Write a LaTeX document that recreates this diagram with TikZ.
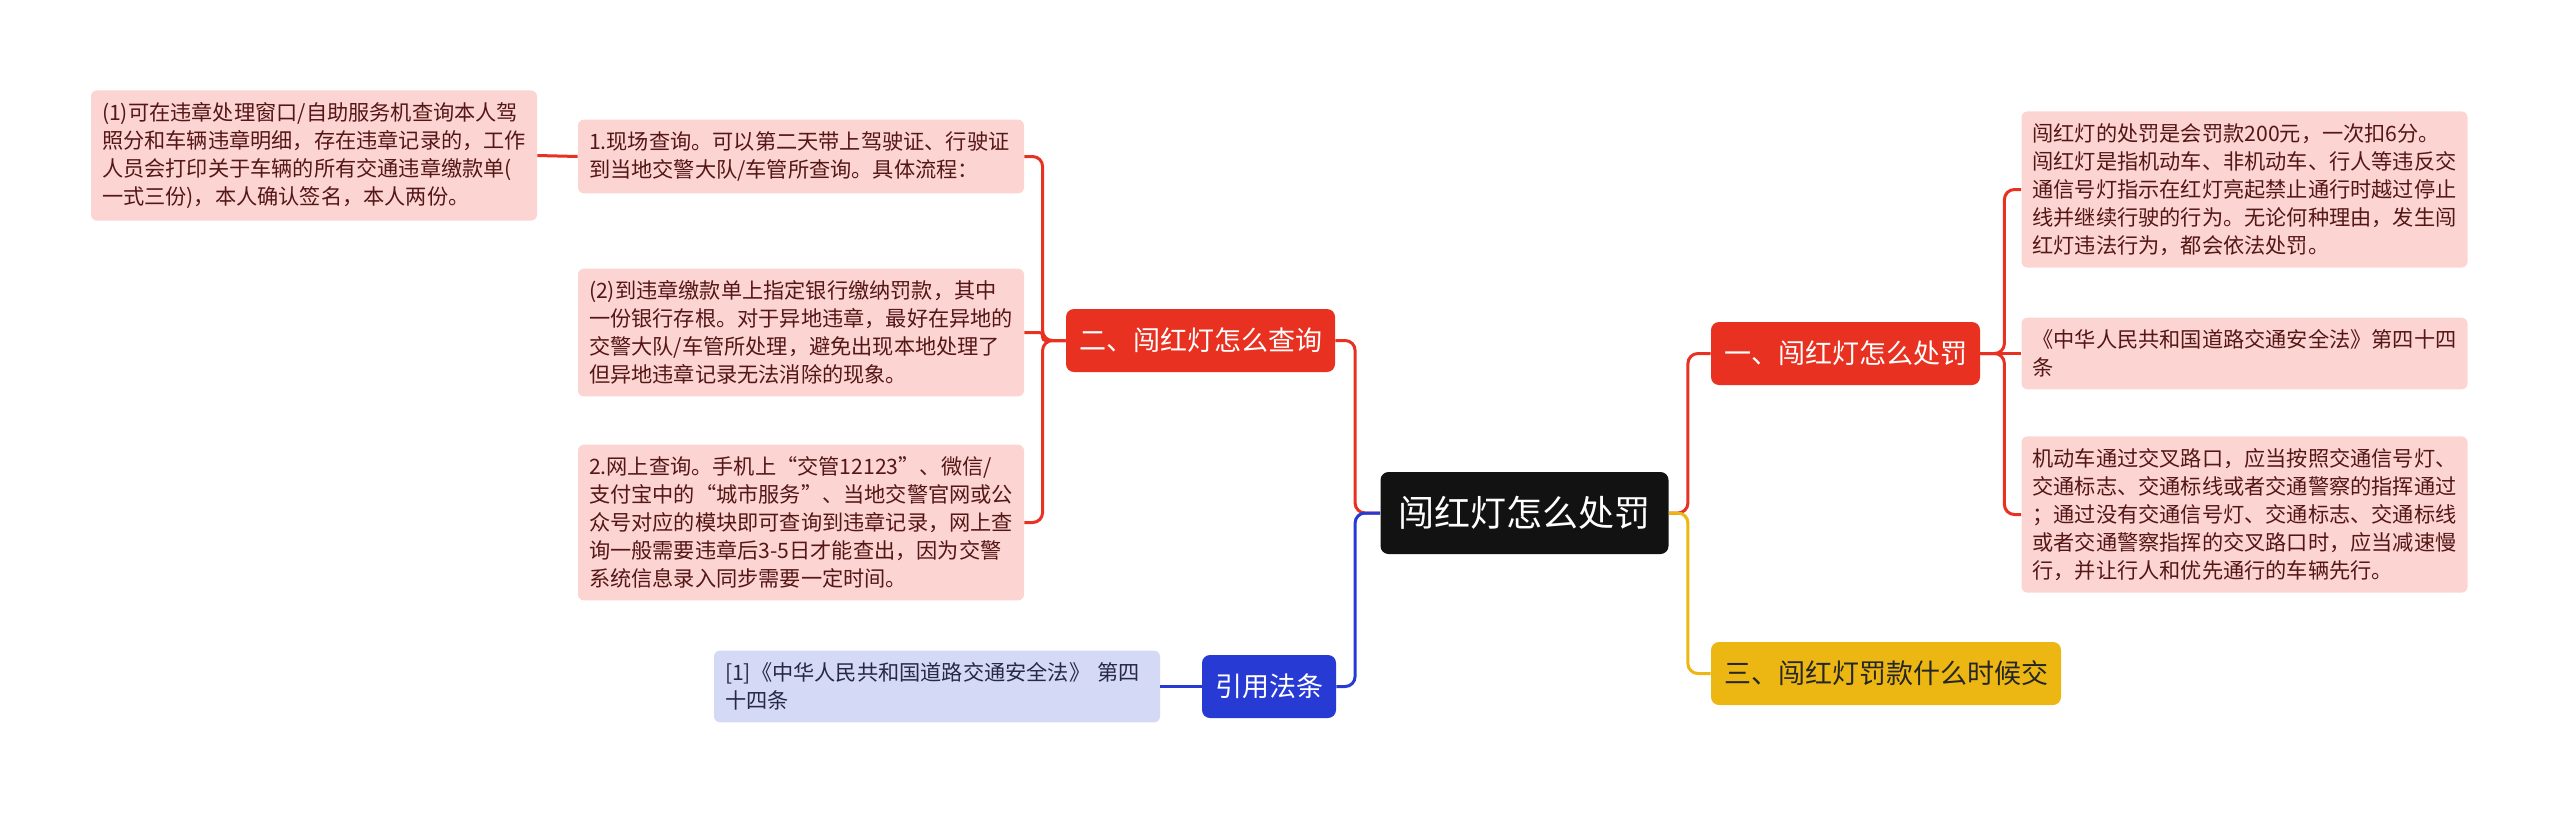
\documentclass[tikz,border=0pt]{standalone}
\usepackage{fontspec}
\setmainfont{Noto Sans CJK SC}

\definecolor{redbranch}{RGB}{232,49,33}
\definecolor{pinkleaf}{RGB}{252,213,211}
\definecolor{leaftext}{RGB}{85,22,22}
\definecolor{bluebranch}{RGB}{40,58,212}
\definecolor{blueleaf}{RGB}{212,217,246}
\definecolor{bluetext}{RGB}{40,40,70}
\definecolor{yellowbranch}{RGB}{236,183,18}

\tikzset{
  rootbox/.style={fill=black!93, text=white, rounded corners=4pt,
    font=\fontsize{18pt}{22pt}\selectfont, inner xsep=9pt, minimum height=41pt},
  branchbox/.style={rounded corners=4pt, font=\fontsize{13.5pt}{16pt}\selectfont,
    inner xsep=6.5pt, minimum height=31.5pt},
  leafbox/.style={fill=pinkleaf, text=leaftext, rounded corners=3pt,
    font=\fontsize{10.6pt}{14pt}\selectfont, text width=212pt, align=left,
    inner xsep=5.5pt, inner ysep=6pt},
  link/.style={line width=1.5pt, rounded corners=5pt},
}

\begin{document}
\begin{tikzpicture}[x=0.5pt, y=-0.5pt]
\useasboundingbox (0,0) rectangle (2560,815);

% centre and main branches
\node[rootbox] (root) at (1524.5,513) {闯红灯怎么处罚};
\node[branchbox, fill=redbranch, text=white] (chufa) at (1845.5,353.5) {一、闯红灯怎么处罚};
\node[branchbox, fill=redbranch, text=white] (chaxun) at (1200.5,340.5) {二、闯红灯怎么查询};
\node[branchbox, fill=yellowbranch, text=black!85] (shijian) at (1886,673.5) {三、闯红灯罚款什么时候交};
\node[branchbox, fill=bluebranch, text=white] (yinyong) at (1269,686.5) {引用法条};

% left leaves
\node[leafbox] (liucheng) at (314,155.5) {(1)可在违章处理窗口/自助服务机查询本人驾\\照分和车辆违章明细，存在违章记录的，工作\\人员会打印关于车辆的所有交通违章缴款单(\\一式三份)，本人确认签名，本人两份。};
\node[leafbox] (xianchang) at (801,156.5) {1.现场查询。可以第二天带上驾驶证、行驶证\\到当地交警大队/车管所查询。具体流程：};
\node[leafbox] (jiaokuan) at (801,332.5) {(2)到违章缴款单上指定银行缴纳罚款，其中\\一份银行存根。对于异地违章，最好在异地的\\交警大队/车管所处理，避免出现本地处理了\\但异地违章记录无法消除的现象。};
\node[leafbox] (wangshang) at (801,522.5) {2.网上查询。手机上“交管12123”、微信/\\支付宝中的“城市服务”、当地交警官网或公\\众号对应的模块即可查询到违章记录，网上查\\询一般需要违章后3-5日才能查出，因为交警\\系统信息录入同步需要一定时间。};
\node[leafbox, fill=blueleaf, text=bluetext] (fatiao) at (937,686.5) {[1]《中华人民共和国道路交通安全法》 第四\\十四条};

% right leaves
\node[leafbox] (fakuan) at (2244.5,189.5) {闯红灯的处罚是会罚款200元，一次扣6分。\\闯红灯是指机动车、非机动车、行人等违反交\\通信号灯指示在红灯亮起禁止通行时越过停止\\线并继续行驶的行为。无论何种理由，发生闯\\红灯违法行为，都会依法处罚。};
\node[leafbox] (falv) at (2244.5,353.5) {《中华人民共和国道路交通安全法》第四十四\\条};
\node[leafbox] (lukou) at (2244.5,514.5) {机动车通过交叉路口，应当按照交通信号灯、\\交通标志、交通标线或者交通警察的指挥通过\\；通过没有交通信号灯、交通标志、交通标线\\或者交通警察指挥的交叉路口时，应当减速慢\\行，并让行人和优先通行的车辆先行。};

% connectors
\draw[link, redbranch] (root.east) -- ++(19,0) |- (chufa.west);
\draw[link, yellowbranch] (root.east) -- ++(19,0) |- (shijian.west);
\draw[link, redbranch] (root.west) -- ++(-25,0) |- (chaxun.east);
\draw[link, bluebranch] (root.west) -- ++(-25,0) |- (yinyong.east);
\foreach \leaf in {xianchang, wangshang}
  \draw[link, redbranch] (chaxun.west) -- ++(-23,0) |- (\leaf.east);
\draw[link, redbranch, rounded corners=1.5pt] (chaxun.west) -- ++(-23,0) |- (jiaokuan.east);
\draw[link, redbranch] (xianchang.west) -- (liucheng.east);
\foreach \leaf in {fakuan, lukou}
  \draw[link, redbranch] (chufa.east) -- ++(24,0) |- (\leaf.west);
\draw[link, redbranch] (chufa.east) -- (falv.west);
\draw[link, bluebranch] (yinyong.west) -- (fatiao.east);
\end{tikzpicture}
\end{document}
